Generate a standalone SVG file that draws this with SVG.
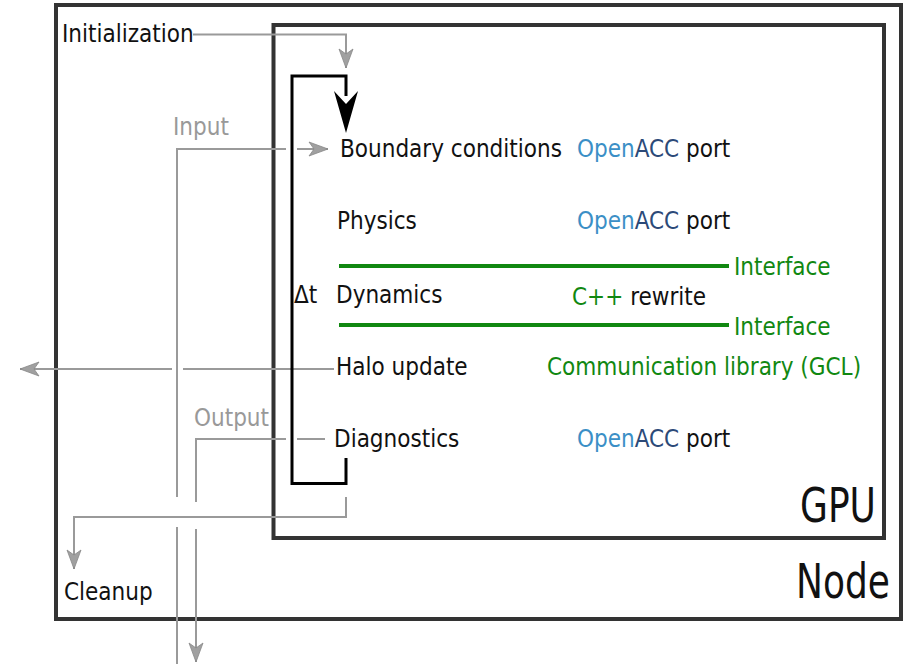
<svg xmlns="http://www.w3.org/2000/svg" width="905" height="664" viewBox="0 0 905 664">
<style>
text{font-family:"DejaVu Sans Condensed","DejaVu Sans",sans-serif;font-stretch:condensed;font-size:24px;fill:#111}
.big{font-size:40px}
.gray{fill:#999}
.green{fill:#118811}
.lblue{fill:#3b8fc6}
.navy{fill:#2c4a78}
.box{fill:none;stroke:#333;stroke-width:4}
.loop{fill:none;stroke:#000;stroke-width:3}
.conn{fill:none;stroke:#9a9a9a;stroke-width:2}
.gline{stroke:#118811;stroke-width:4}
</style>
<defs>
<marker id="ga" markerUnits="userSpaceOnUse" markerWidth="24" markerHeight="20" viewBox="-20 -10 24 20" refX="0" refY="0" orient="auto">
<path d="M0,0 L-19,-7 L-14,0 L-19,7 Z" fill="#a0a0a0" stroke="#888" stroke-width="0.8"/>
</marker>
</defs>
<g id="node">
<rect class="box" x="56" y="5" width="845" height="614"/>
<text class="big" transform="translate(796,598) scale(1,1.2)">Node</text>
</g>
<g id="gpu">
<rect class="box" x="273.5" y="25" width="610.5" height="513"/>
<text class="big" transform="translate(800,522) scale(1,1.2)">GPU</text>
</g>
<g id="connectors">
<path class="conn" d="M193,34.5 H346 V68" marker-end="url(#ga)"/>
<path class="conn" d="M177,664 V527 M177,497 V149 H286 M297,149 H328" marker-end="url(#ga)"/>
<path class="conn" d="M334,369 H183 M172,369 H20" marker-end="url(#ga)"/>
<path class="conn" d="M325,439 H297 M286,439 H196 V502 M196,529 V662" marker-end="url(#ga)"/>
<path class="conn" d="M346,497 V517 H74 V569" marker-end="url(#ga)"/>
<path class="loop" d="M346,458 V483.5 H292 V76 H346 V96"/>
<path d="M334,91 L346,104 L358,91 L346,133 Z" fill="#000"/>
<line class="gline" x1="339" y1="266" x2="729" y2="266"/>
<line class="gline" x1="339" y1="325" x2="729" y2="325"/>
</g>
<g id="initialization"><text x="62" y="42">Initialization</text></g>
<g id="input"><text class="gray" x="173" y="135">Input</text></g>
<g id="output"><text class="gray" x="194" y="426">Output</text></g>
<g id="cleanup"><text x="64" y="600">Cleanup</text></g>
<g id="dt"><text x="294" y="303">Δt</text></g>
<g id="boundary"><text x="340" y="157">Boundary conditions</text></g>
<g id="physics"><text x="337" y="229">Physics</text></g>
<g id="dynamics"><text x="336" y="303">Dynamics</text></g>
<g id="halo"><text x="336" y="375">Halo update</text></g>
<g id="diagnostics"><text x="334" y="447">Diagnostics</text></g>
<g id="port1"><text x="577" y="157"><tspan class="lblue">Open</tspan><tspan class="navy">ACC</tspan> port</text></g>
<g id="port2"><text x="577" y="229"><tspan class="lblue">Open</tspan><tspan class="navy">ACC</tspan> port</text></g>
<g id="iface1"><text class="green" x="734" y="275">Interface</text></g>
<g id="cpp"><text x="572" y="305"><tspan class="green">C++</tspan> rewrite</text></g>
<g id="iface2"><text class="green" x="734" y="335">Interface</text></g>
<g id="gcl"><text class="green" x="547" y="375">Communication library (GCL)</text></g>
<g id="port3"><text x="577" y="447"><tspan class="lblue">Open</tspan><tspan class="navy">ACC</tspan> port</text></g>
</svg>
